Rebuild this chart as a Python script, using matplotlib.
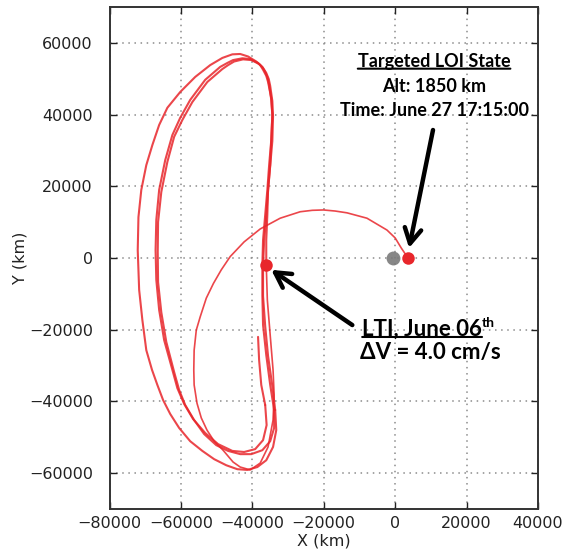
import matplotlib
matplotlib.use('Agg')
import matplotlib.pyplot as plt

# ---------------- data (km) ----------------
x_ticks = [-80000, -60000, -40000, -20000, 0, 20000, 40000]
y_ticks = [-60000, -40000, -20000, 0, 20000, 40000, 60000]

start_x = [-38400, -38100, -37500, -36400]
start_y = [-22000, -28500, -35400, -41000]

loop1_x = [-36400, -36000, -37000, -39200, -42300, -45600, -49600, -53200, -56600, -59100,
           -61000, -62400, -64700, -66100, -66900, -67100, -66900, -66100, -64400, -62400,
           -60200, -57400, -53200, -49000, -47000, -45400, -42800, -40600, -38400, -37200,
           -36400, -35700, -35300, -34700, -34400, -34700, -35300, -35800, -36400, -37000,
           -37200, -37200, -37000, -36100, -35000, -33900]
loop1_y = [-41000, -46600, -50800, -53300, -54100, -53800, -51900, -48800, -44900, -40700,
           -36300, -31200, -22900, -14500, -6100, 2200, 10600, 19000, 27300, 34300,
           39100, 44100, 49700, 53300, 54400, 55200, 55700, 55500, 54400, 53300,
           51900, 50200, 48300, 44100, 39900, 32900, 25900, 19000, 12000, 5000,
           -2000, -10300, -18700, -27100, -35400, -42400]

loop2_x = [-33900, -33900, -35000, -37200, -40300, -43400, -46800, -50100, -53500, -56300,
           -58800, -60500, -61900, -64100, -65500, -66400, -66500, -66400, -65500, -63800,
           -61900, -59600, -56800, -52600, -48400, -46800, -45100, -42600, -40300, -38100,
           -37000, -36100, -35400, -35000, -34400, -34200, -34400, -35000, -35600, -36100,
           -36700, -37000, -37000, -36400, -35600, -34400, -33600]
loop2_y = [-42400, -47400, -51100, -53600, -54700, -54700, -53800, -52200, -49100, -45200,
           -41000, -36800, -31800, -23400, -15100, -6700, 1700, 10000, 18400, 26800,
           33800, 38500, 43500, 49100, 52700, 53800, 54800, 55400, 55200, 54100,
           53000, 51600, 49900, 48000, 43800, 39600, 32600, 25700, 18700, 11700,
           4700, -2200, -10600, -19000, -27300, -35700, -42400]

loop3_x = [-33600, -33300, -34200, -36100, -38600, -41400, -44200, -47300, -50700, -54000,
           -57400, -60500, -63000, -65000, -66600, -68100, -69700, -70800, -71700, -72100,
           -71900, -71100, -69700, -68000, -66100, -63800, -60200, -56000, -51800, -48400,
           -45600, -43400, -41200, -38900, -37800, -37000, -36100, -35600, -34700, -34400,
           -34700, -35000, -35600, -35800, -36100, -36100]
loop3_y = [-42400, -48000, -52700, -56400, -58300, -59100, -58900, -57800, -56100, -53800,
           -51100, -47400, -43500, -39600, -35400, -31200, -25700, -17300, -8900, 2200,
           11400, 19000, 25900, 31500, 37100, 41900, 46300, 50500, 53800, 55800,
           56800, 56900, 56200, 54800, 53800, 52500, 50800, 49100, 44600, 39900,
           32900, 25900, 19000, 12000, 5000, -2000]

transfer_x = [-36100, -35800, -35000, -34200, -33900, -34200, -35600, -37800, -40600, -43400,
              -45400, -48200, -50700, -52700, -54300, -55500, -56300, -56400, -56300, -55700,
              -54600, -52900, -50900, -48700, -46200, -42300, -37800, -32200, -26600, -23200,
              -20100, -16800, -13500, -7900, -2300, 0, 1700, 3600]
transfer_y = [-2000, -11700, -21500, -31200, -38200, -45200, -52700, -57200, -59100, -58300,
              -56900, -53600, -51100, -48000, -44600, -40500, -35400, -31200, -25700, -20100,
              -16400, -11200, -7100, -3300, 400, 4500, 8100, 11100, 12900, 13300,
              13400, 13100, 12600, 11100, 7800, 5600, 2800, 0]

moon_xy = (-500, 0)
lti_xy = (-36100, -2000)
loi_xy = (3600, 0)

# ---------------- figure ----------------
RED = '#e8262b'
fig = plt.figure(figsize=(5.66, 5.52), dpi=100)
ax = fig.add_axes([0.1935, 0.0779, 0.757, 0.9094])

for xs, ys, lw in [(start_x, start_y, 1.5), (loop1_x, loop1_y, 1.5), (loop2_x, loop2_y, 1.5),
                   (loop3_x, loop3_y, 1.5), (transfer_x, transfer_y, 1.2)]:
    ax.plot(xs, ys, color=RED, lw=lw, alpha=0.85, solid_joinstyle='round',
            solid_capstyle='round', zorder=3)

ax.plot(*moon_xy, 'o', color='#7a7a7a', ms=10, alpha=0.9, mec='none', zorder=4)
ax.plot(*loi_xy, 'o', color=RED, ms=9, mec='none', zorder=5)
ax.plot(*lti_xy, 'o', color=RED, ms=9, mec='none', zorder=5)

ax.set_xlim(-80000, 40000)
ax.set_ylim(-70000, 70000)
ax.set_xticks(x_ticks)
ax.set_yticks(y_ticks)
ax.grid(True, color='#8c8c8c', linestyle=(0, (1, 3)), lw=1.1)
ax.tick_params(direction='in', length=5, width=1, top=True, right=True,
               labelsize=11.5, colors='#222222')
ax.tick_params(axis='y', pad=12)
ax.tick_params(axis='x', pad=5)
for s in ax.spines.values():
    s.set_linewidth(1.4)
    s.set_color('#333333')
ax.set_xlabel('X (km)', fontsize=11.5, color='#222222', labelpad=2)
ax.set_ylabel('Y (km)', fontsize=11.5, color='#222222', labelpad=1)

fam = ['Lato', 'DejaVu Sans']
tk = dict(family=fam, weight='bold', fontsize=13, color='black', zorder=6)
tk2 = dict(tk, fontsize=16)

t1 = ax.text(10900, 54700, 'Targeted LOI State', ha='center', va='center', **tk)
ax.annotate('', xy=(1, 0.1), xycoords=t1, xytext=(0, 0.1), textcoords=t1,
            arrowprops=dict(arrowstyle='-', lw=1.5, color='black', shrinkA=0, shrinkB=0))
ax.text(10900, 47700, 'Alt: 1850 km', ha='center', va='center', **tk)
ax.text(10900, 41000, 'Time: June 27 17:15:00', ha='center', va='center', **tk)

t2 = ax.text(-9240, -19800, 'LTI, June 06', ha='left', va='center', **tk2)
ax.annotate('th', xy=(1.0, 0.5), xycoords=t2, ha='left', va='bottom',
            family=fam, weight='bold', fontsize=10)
ax.annotate('', xy=(1, 0.12), xycoords=t2, xytext=(0, 0.12), textcoords=t2,
            arrowprops=dict(arrowstyle='-', lw=1.5, color='black', shrinkA=0, shrinkB=0))
ax.text(-9800, -26400, '\u0394V = 4.0 cm/s', ha='left', va='center', **tk2)

arrow = dict(arrowstyle='->,head_length=0.9,head_width=0.5', lw=3.2, color='black',
             shrinkA=0, shrinkB=0, mutation_scale=12)
ax.annotate('', xy=(3900, 2800), xytext=(10600, 35700), arrowprops=arrow, zorder=6)
ax.annotate('', xy=(-34700, -3300), xytext=(-12000, -18700), arrowprops=arrow, zorder=6)

fig.savefig('out.png', dpi=100)
